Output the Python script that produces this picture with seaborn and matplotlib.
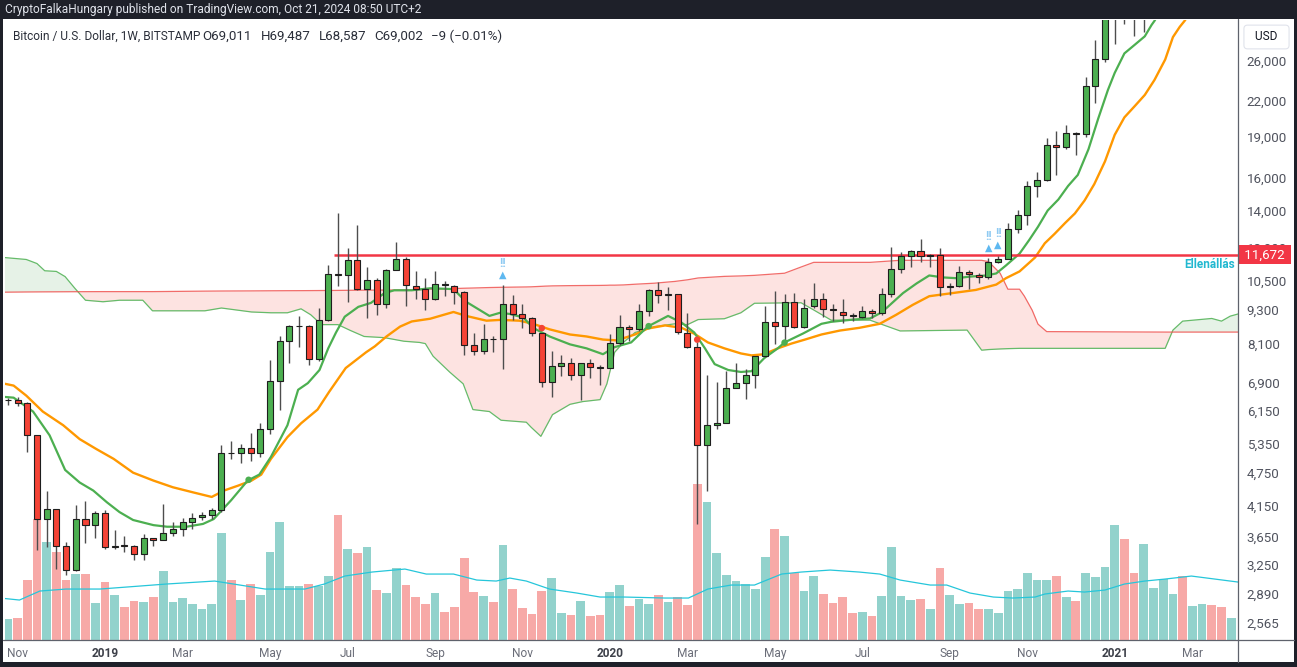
import numpy as np
import matplotlib
matplotlib.use("Agg")
import matplotlib.pyplot as plt
from matplotlib.lines import Line2D
from matplotlib.patches import Rectangle
from matplotlib.ticker import NullLocator, NullFormatter
import seaborn as sns

# ------------------------------------------------------------------ data
# weekly candles, index 0 = week of 29 Oct 2018
month_tick_idx = [1, 10, 18, 27, 35, 44, 53, 62, 70, 79, 88, 97, 105, 114, 122]
month_tick_lbl = ["Nov", "2019", "Mar", "May", "Jul", "Sep", "Nov", "2020",
                  "Mar", "May", "Jul", "Sep", "Nov", "2021", "Mar"]

open_ = [6405, 6420, 6345, 5548, 3932, 4089, 3514, 3188, 3932, 3830, 4022, 3497, 3525, 3514, 3403, 3636,
         3610, 3713, 3780, 3880, 3970, 3995, 4075, 5160, 5150, 5269, 5156, 5688, 6946, 8170, 8705, 8720,
         7610, 8935, 10790, 10740, 11420, 10135, 10530, 9527, 10950, 11480, 10270, 10120, 9730, 10350, 10270, 10020,
         8040, 7840, 8250, 8240, 9527, 9160, 9015, 8470, 6900, 7370, 7470, 7100, 7470, 7340, 7330, 8130,
         8680, 8586, 9265, 10100, 9890, 9920, 8475, 7998, 5327, 5780, 5830, 6750, 6890, 7100, 7690, 8864,
         8705, 9620, 8680, 9440, 9715, 9340, 9236, 9100, 9050, 9265, 9190, 9930, 11030, 11630, 11860, 11630,
         11650, 10210, 10250, 10870, 10720, 10650, 11350, 11480, 12980, 13740, 15480, 15900, 18340, 18200, 19290, 19180,
         23400, 26180, 32200, 38200, 36000, 32300, 33100, 38900, 48600, 57400, 45200, 50900, 59000, 57400, 55800]
high = [6480, 6510, 6370, 5560, 4406, 4100, 3580, 4156, 4226, 4060, 4080, 3755, 3668, 3525, 3698, 3640,
        4176, 3880, 3947, 4025, 4040, 4117, 5327, 5420, 5350, 5596, 5829, 7560, 8360, 8730, 9068, 8740,
        9367, 11200, 13850, 11990, 13190, 11080, 10620, 11020, 12310, 11580, 10930, 10600, 10920, 10470, 10320, 10040,
        8470, 8780, 8340, 10300, 9900, 9545, 9045, 8470, 7840, 7720, 7620, 7480, 7600, 7410, 8410, 9112,
        8755, 9527, 10135, 10430, 10220, 9950, 9193, 8136, 7100, 6900, 7230, 7460, 7285, 7690, 9466, 10050,
        9930, 9970, 9730, 10380, 9970, 9527, 9730, 9193, 9436, 9344, 10170, 12070, 11800, 11920, 12460, 11690,
        12020, 10380, 11135, 10985, 10810, 11500, 11630, 13320, 14030, 15800, 16450, 18870, 19450, 19900, 19380, 24280,
        28330, 34800, 41900, 40100, 37800, 38500, 40900, 49700, 58300, 57500, 52600, 61800, 61000, 58400, 60100]
low = [6280, 6270, 5181, 3464, 3502, 3198, 3122, 3170, 3560, 3636, 3475, 3480, 3437, 3315, 3315, 3522,
       3600, 3662, 3662, 3770, 3915, 3935, 4050, 5040, 4955, 5000, 5080, 5570, 6170, 7460, 7998, 7410,
       7540, 8880, 10260, 9620, 10100, 9015, 9118, 9380, 10950, 9466, 9720, 9310, 9700, 9850, 9530, 7710,
       7710, 7750, 7813, 7300, 8927, 8640, 8338, 6770, 6510, 7086, 6970, 6420, 7040, 6840, 7320, 8045,
       8176, 8540, 9075, 9575, 9310, 8406, 7966, 3850, 4420, 5690, 5830, 6730, 6450, 6750, 7670, 8090,
       8176, 8650, 8640, 9375, 9050, 8898, 8826, 8898, 9015, 9015, 9118, 9810, 10810, 11080, 11310, 11080,
       9840, 9880, 10230, 10135, 10375, 10550, 11270, 11450, 12780, 13210, 14800, 15850, 16220, 18030, 17590, 19000,
       21850, 25870, 27760, 30240, 28760, 29200, 32300, 37400, 47000, 44900, 44900, 49300, 53300, 50400, 55500]
close = [6415, 6345, 5548, 3932, 4089, 3514, 3188, 3932, 3830, 4022, 3497, 3520, 3515, 3403, 3636, 3610,
         3713, 3780, 3880, 3943, 3995, 4075, 5156, 5150, 5269, 5156, 5688, 6946, 8170, 8705, 8720, 7610,
         8935, 10790, 10740, 11420, 10135, 10530, 9527, 10950, 11480, 10300, 10120, 9730, 10350, 10310, 10020, 8040,
         7840, 8250, 8240, 9527, 9160, 9015, 8470, 6900, 7370, 7470, 7100, 7470, 7340, 7330, 8130, 8680,
         8586, 9265, 10100, 9890, 9920, 8500, 7998, 5327, 5780, 5830, 6750, 6890, 7100, 7690, 8864, 8705,
         9620, 8680, 9390, 9715, 9340, 9290, 9100, 9070, 9265, 9190, 9930, 11030, 11630, 11860, 11630, 11650,
         10210, 10250, 10870, 10775, 10650, 11310, 11480, 12980, 13740, 15480, 15900, 18340, 18200, 19290, 19180, 23400,
         26180, 32200, 38200, 36000, 32300, 33100, 38900, 48600, 57400, 45200, 50900, 59000, 57400, 55800, 58000]
volume = [21, 22, 60, 121, 98, 88, 60, 66, 66, 37, 58, 45, 33, 39, 38, 43,
          69, 38, 42, 36, 31, 36, 107, 60, 40, 56, 45, 88, 118, 54, 54, 56,
          54, 64, 125, 91, 87, 93, 50, 47, 72, 55, 43, 36, 47, 28, 33, 82,
          48, 44, 38, 95, 51, 32, 26, 49, 62, 27, 25, 39, 24, 25, 48, 55,
          34, 41, 36, 45, 38, 43, 35, 156, 138, 87, 65, 59, 56, 51, 83, 111,
          104, 67, 49, 64, 46, 37, 43, 27, 28, 24, 44, 93, 44, 40, 41, 31,
          72, 45, 36, 37, 31, 31, 27, 49, 51, 67, 60, 60, 64, 43, 39, 67,
          63, 73, 115, 101, 67, 96, 52, 61, 46, 64, 34, 36, 35, 33, 22]

# fast (green) moving average
ma_fast_idx = [-0.8, 0.6, 2.6, 4.3, 5.9, 7.4, 8.8, 10.2, 11.5, 12.9, 15, 16.4, 18.4, 20.1, 21.2, 23, 24.7, 25.9,
               27.1, 28.8, 29.9, 30.9, 32.1, 33, 33.8, 34.7, 36.1, 37.4, 38.8, 39.8, 41.6, 43.5, 45.9, 47.2,
               49.6, 50.7, 51.7, 53.1, 54.1, 55.8, 57.9, 59.6, 61.3, 62.5, 64.2, 65.9, 68, 69.4, 70.7, 71.8,
               72.8, 74.2, 75.5, 76.6, 77.9, 79.3, 80, 81.9, 83.8, 84.8, 87.1, 88.8, 89.8, 90.5, 92.2, 93.6,
               94.9, 96.3, 97.7, 99.1, 100.8, 101.8, 102.8, 104.2, 105.2, 106.1, 107.1, 108.2, 109.2, 110.2,
               111.3, 112.3, 113.3, 114, 115, 116.1, 117.1, 117.8, 118.1, 119, 120, 122, 124, 126.8]
ma_fast_val = [6510, 6480, 6120, 5550, 4812, 4569, 4420, 4212, 4045, 3915, 3833, 3808, 3808, 3852, 3930, 4247, 4605, 4720,
               5078, 5784, 6694, 6880, 7262, 7940, 8475, 9045, 9420, 9575, 9970, 10085, 10085, 10170, 10135, 9620,
               9075, 9193, 9148, 9015, 8640, 8338, 8071, 7940, 7750, 7980, 8136, 8684, 9075, 8826, 8475, 7940,
               7440, 7262, 7204, 7227, 7624, 7940, 8136, 8440, 8784, 8856, 8940, 8980, 9170, 9375, 9970, 10375,
               10720, 10635, 10600, 10670, 10720, 10810, 11170, 11730, 12410, 13100, 14010, 14660, 15500, 16220,
               18030, 20450, 23010, 24690, 26760, 27760, 28710, 30090, 30600, 32500, 35000, 40500, 45500, 50000]

# slow (orange) moving average
ma_slow_idx = [-0.8, 0.6, 1.9, 3.6, 5.7, 7.4, 9.1, 10.9, 12.9, 15, 17, 19.1, 21, 22.3, 23.7, 25.1, 26.1, 27.1,
               28.8, 30.2, 31.9, 33.1, 34.8, 36.9, 37.8, 39, 40.4, 41.6, 43.5, 45.9, 47.2, 49.3, 50.7, 52.7,
               54.1, 55.8, 57.9, 59.6, 61.3, 62.7, 64.6, 65.9, 67.7, 69.4, 70.7, 72.1, 73.8, 75.5, 76.6, 77.9,
               79.3, 80.7, 82.1, 83.8, 85.7, 87.7, 89.8, 91.5, 93.2, 94.9, 97.3, 99.7, 101.8, 102.8, 104.2,
               105.8, 106.8, 107.8, 108.9, 109.9, 110.9, 111.9, 113, 114, 115, 116.1, 117.1, 118.1, 119.2, 120,
               120.7, 121.2, 122.5, 124, 126.8]
ma_slow_val = [6890, 6810, 6535, 6120, 5785, 5463, 5246, 5036, 4758, 4605, 4480, 4386, 4305, 4422, 4509, 4605, 4720, 5036,
               5508, 5830, 6170, 6640, 7321, 7813, 8006, 8338, 8684, 8870, 8970, 9223, 9075, 8898, 8927, 8898,
               8784, 8586, 8406, 8338, 8232, 8205, 8406, 8614, 8726, 8640, 8433, 8136, 7940, 7775, 7713, 7750,
               7940, 8097, 8232, 8406, 8544, 8640, 8784, 9118, 9497, 9842, 9970, 10100, 10325, 10600, 10900,
               11545, 12240, 12720, 13310, 13840, 14600, 15620, 17150, 19130, 20560, 21570, 22550, 23990, 26090, 28620,
               29850, 30600, 33000, 36000, 40000]

# Ichimoku cloud (leading span A = green edge, span B = red edge)
cloud_idx = [-0.3, 1.9, 3, 3.8, 5, 5.9, 6.9, 8, 9.8, 11.5, 13.9, 14.9, 20.3, 22, 25.1, 27.1, 28.8, 30.2, 31.2,
             32.3, 34, 35.3, 36.7, 38.8, 40.8, 42.4, 43, 43.8, 45.5, 46.9, 47.9, 49.6, 50.8, 53.4, 53.9, 54.9,
             55.4, 56.1, 57.9, 59.2, 61, 61.7, 62, 62.5, 63.4, 64.6, 66.6, 68.7, 70, 71.1, 73.8, 75.5, 76.9,
             80, 81.7, 83, 84.8, 88.8, 91.9, 98.8, 100.3, 101, 102.2, 103, 104.2, 104.7, 105.5, 106.1, 107,
             119.2, 120, 121, 124, 125, 125.9, 126.9]
span_a = [11540, 11450, 11260, 10930, 10900, 10670, 10170, 9680, 9620, 9680, 9680, 9268, 9268, 9375, 9223, 9193,
          9193, 9344, 9118, 8755, 8755, 8544, 8338, 8297, 8176, 8136, 8097, 7687, 7203, 6860, 6170, 6120, 5905,
          5857, 5736, 5526, 5736, 6043, 6305, 6376, 6428, 6860, 7203, 7813, 8136, 8475, 8684, 8784, 8755, 8940,
          8970, 9193, 9560, 9575, 9580, 9300, 8918, 8918, 8530, 8560, 7880, 7900, 7920, 7930, 7940, 7940, 7940,
          7940, 7940, 7940, 8560, 8882, 8980, 8882, 9066, 9167]
span_b = [10007, 10015, 10018, 10020, 10022, 10024, 10026, 10028, 10030, 10030, 10030, 10030, 10050, 10055, 10060,
          10065, 10068, 10070, 10072, 10075, 10080, 10085, 10090, 10095, 10100, 10110, 10130, 10135, 10150, 10170,
          10180, 10200, 10210, 10225, 10230, 10250, 10260, 10270, 10280, 10285, 10290, 10295, 10300, 10300, 10310,
          10340, 10384, 10460, 10530, 10610, 10680, 10700, 10725, 10820, 11100, 11315, 11315, 11315, 11410, 11410,
          11410, 11350, 10820, 10130, 10130, 9843, 9292, 8773, 8506, 8490, 8490, 8490, 8490, 8490, 8490, 8490]

# volume moving average
vol_ma_idx = [-0.8, 1.2, 3.3, 6, 9.5, 13.6, 16.3, 21.3, 26.5, 30.6, 32.6, 34.7, 37.5, 40.9, 43.1, 45.9, 48.3,
              50.3, 51.7, 53.4, 55.8, 58.6, 61, 63.5, 67.7, 70.1, 72.1, 74.5, 76.9, 79.7, 81.7, 84.7, 87.7,
              89.8, 91.9, 95, 96.7, 99.1, 101.5, 103.5, 105.8, 106.8, 109.2, 110.9, 113, 115, 117.1, 119.2,
              121.9, 124.3, 126.7]
vol_ma_val = [42, 40, 49, 51, 51, 54, 56, 59, 51, 51, 56, 64, 68, 71, 66, 66, 60,
              59, 62, 59, 51, 47, 43, 43, 42, 42, 51, 55, 55, 66, 68, 70, 68,
              66, 60, 55, 55, 47, 43, 42, 43, 46, 49, 48, 50, 56, 59, 61,
              64, 61, 58]

# MA cross markers
cross_up_idx = [24.8, 66, 80]
cross_up_val = [4620, 8700, 8130]
cross_dn_idx = [55, 71]
cross_dn_val = [8630, 8230]

# "!!" signal markers (candle index)
signal_idx = [51, 101, 102]

resistance = 11672
resistance_start = 34

price_ticks = [26000, 22000, 19000, 16000, 14000, 12000, 10500, 9300, 8100, 6900,
               6150, 5350, 4750, 4150, 3650, 3250, 2890, 2565]

legend_title = "Bitcoin / U.S. Dollar, 1W, BITSTAMP"
legend_items = ["O69,011", "H69,487", "L68,587", "C69,002", "\u22129 (\u22120.01%)"]
legend_item_px = [202, 261, 319, 374, 431]

# ------------------------------------------------------------------ style
sns.set_theme(style="white")
plt.rcParams['font.family'] = ['Roboto', 'DejaVu Sans']

W, H = 1297, 667
fig = plt.figure(figsize=(W / 100, H / 100), dpi=100, facecolor="#1e2029")


def fx(px):
    return px / W


def fy(py):
    return 1 - py / H


panel = Rectangle((fx(3), fy(662)), fx(1294) - fx(3), fy(19) - fy(662),
                  transform=fig.transFigure, facecolor="white", edgecolor="none", zorder=-5)
fig.add_artist(panel)

rect = [fx(5), fy(640), fx(1238) - fx(5), fy(19.5) - fy(640)]
vol_ax = fig.add_axes(rect)
ax = fig.add_axes(rect)
ax.patch.set_visible(False)
vol_ax.set_facecolor("white")

XMIN, XMAX = -0.29, 126.7
n = len(close)
idx = np.arange(n)
o = np.array(open_, float)
c = np.array(close, float)
hi = np.array(high, float)
lo = np.array(low, float)
up = c >= o

# ---- volume pane
vol_colors = np.where(up, "#92d2cc", "#f7a9a7")
vol_ax.bar(idx, volume, width=0.9, color=vol_colors, edgecolor="none")
sns.lineplot(x=vol_ma_idx, y=vol_ma_val, ax=vol_ax, color="#26c6da", lw=0.9,
             estimator=None, sort=False)
vol_ax.set_xlim(XMIN, XMAX)
vol_ax.set_ylim(0, 621)
vol_ax.set_xticks([])
vol_ax.set_yticks([])
vol_ax.set_xlabel("")
vol_ax.set_ylabel("")
for s in vol_ax.spines.values():
    s.set_visible(False)

# ---- price pane
ax.set_yscale("log")
ax.set_xlim(XMIN, XMAX)
ax.set_ylim(2388, 30770)

ca = np.array(span_a, float)
cb = np.array(span_b, float)
ax.fill_between(cloud_idx, ca, cb, where=ca >= cb, interpolate=True,
                color="#43a047", alpha=0.13, lw=0)
ax.fill_between(cloud_idx, ca, cb, where=ca < cb, interpolate=True,
                color="#f44336", alpha=0.15, lw=0)
sns.lineplot(x=cloud_idx, y=span_a, ax=ax, color="#66bb6a", lw=0.9, estimator=None, sort=False)
sns.lineplot(x=cloud_idx, y=span_b, ax=ax, color="#ef5350", lw=0.9, alpha=0.85, estimator=None, sort=False)

sns.lineplot(x=ma_slow_idx, y=ma_slow_val, ax=ax, color="#ff9800", lw=1.7, estimator=None, sort=False)
sns.lineplot(x=ma_fast_idx, y=ma_fast_val, ax=ax, color="#4caf50", lw=1.6, estimator=None, sort=False)

ax.hlines(resistance, resistance_start - 0.4, XMAX, color="#f23645", lw=1.8, zorder=4)

# candles
ax.vlines(idx, lo, hi, color="#4d4d4d", lw=1.0, zorder=5)
body_bottom = np.minimum(o, c)
body_h = np.maximum(np.abs(c - o), 1e-6)
ax.bar(idx, body_h, bottom=body_bottom, width=0.62,
       color=np.where(up, "#4caf50", "#f44336"), edgecolor="#1e1e1e", linewidth=0.8, zorder=6)

# cross markers
ax.scatter(cross_up_idx, cross_up_val, s=22, color="#4caf50", zorder=7, edgecolor="none")
ax.scatter(cross_dn_idx, cross_dn_val, s=22, color="#f44336", zorder=7, edgecolor="none")

# signal markers
for i in signal_idx:
    ax.annotate("\u25B2", xy=(i, high[i]), xytext=(0, 4), textcoords="offset points",
                ha="center", va="bottom", fontsize=7, color="#5eb8f0", zorder=8,
                family=["DejaVu Sans"])
    ax.annotate("!!", xy=(i, high[i]), xytext=(0, 11), textcoords="offset points",
                ha="center", va="bottom", fontsize=9, fontweight="bold", color="#8fcaf2", zorder=8)

ax.text(126.35, 11226, "Ellenállás", ha="right", va="center", color="#22b8d0",
        fontsize=8.5, fontweight="bold", zorder=9)

# axes cosmetics
for s in ax.spines.values():
    s.set_visible(False)
ax.set_xlabel("")
ax.set_ylabel("")
ax.yaxis.tick_right()
ax.set_yticks(price_ticks)
ax.set_yticklabels([f"{t:,}" for t in price_ticks])
ax.yaxis.set_minor_locator(NullLocator())
ax.yaxis.set_minor_formatter(NullFormatter())
ax.tick_params(axis="y", length=0, pad=6.3, labelsize=9.6, labelcolor="#50535e")
ax.set_xticks(month_tick_idx)
ax.set_xticklabels(month_tick_lbl)
ax.tick_params(axis="x", length=0, pad=5, labelsize=8.6, labelcolor="#6a6d78")
for lab in ax.get_xticklabels():
    if lab.get_text().isdigit():
        lab.set_fontweight("bold")
        lab.set_color("#3d4049")
ax.grid(False)
vol_ax.grid(False)

# current-level tag on the price scale
ax.text(1.0027, resistance, " 11,672 ", transform=ax.get_yaxis_transform(), ha="left", va="center",
        color="white", fontsize=9.6, zorder=20, clip_on=False,
        bbox=dict(boxstyle="square,pad=0.22", fc="#f23645", ec="none"))

# separators
fig.add_artist(Line2D([fx(1238), fx(1238)], [fy(19), fy(662)], transform=fig.transFigure,
                      color="#5f626c", lw=0.9))
fig.add_artist(Line2D([fx(3), fx(1294)], [fy(640), fy(640)], transform=fig.transFigure,
                      color="#5f626c", lw=0.9))

# USD box
fig.text(fx(1266.5), fy(37), "  USD  ", ha="center", va="center", fontsize=8.6, color="#131722",
         bbox=dict(boxstyle="round,pad=0.45,rounding_size=0.3", fc="white", ec="#e0e3eb", lw=0.8))

# header texts
fig.text(fx(5), fy(10), "CryptoFalkaHungary published on TradingView.com, Oct 21, 2024 08:50 UTC+2",
         ha="left", va="center", fontsize=8.6, color="#e0e3eb")
fig.text(fx(13), fy(36), legend_title, ha="left", va="center", fontsize=8.6, color="#2a2e39")
for item, px in zip(legend_items, legend_item_px):
    fig.text(fx(px), fy(36), item, ha="left", va="center", fontsize=9.6, color="#2a2e39")

fig.savefig("out.png", dpi=100, facecolor=fig.get_facecolor())
